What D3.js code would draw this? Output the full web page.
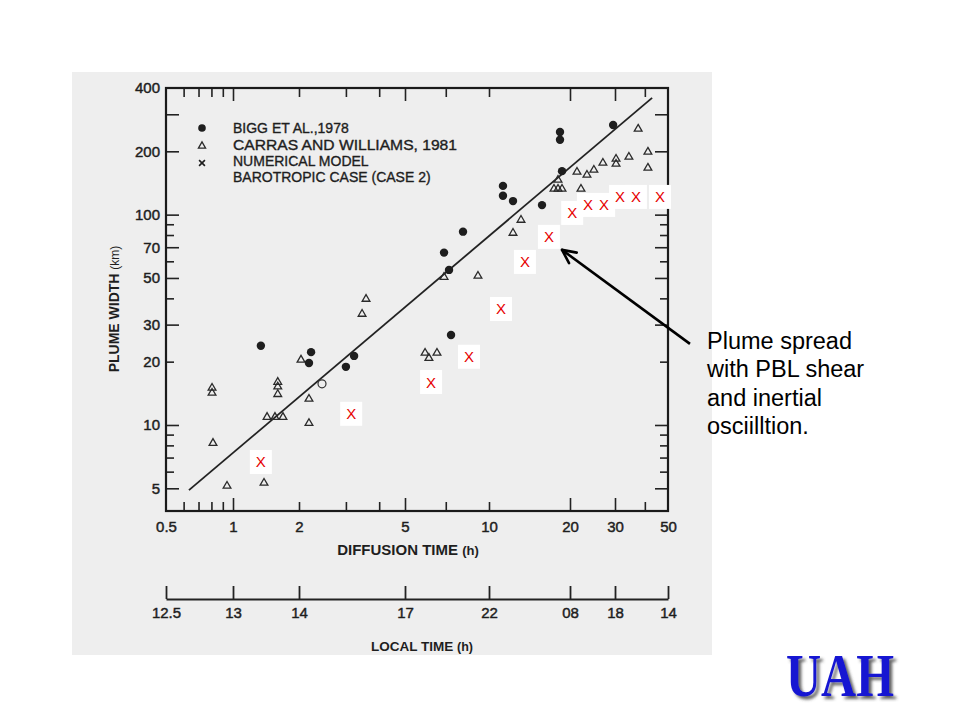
<!DOCTYPE html>
<html><head><meta charset="utf-8">
<script src="https://cdn.jsdelivr.net/npm/d3@7"></script>
<style>body{margin:0;background:#fff}svg{display:block}</style>
</head><body><svg id="c" width="960" height="720"></svg>
<script>
// ---- data ----
const biggTime  = [1.34, 2.22, 2.18, 3.00, 3.22, 7.31, 6.90, 7.19, 8.07, 11.27, 11.27, 12.28, 15.74, 18.36, 18.36, 18.68, 29.5];
const biggWidth = [23.8, 22.2, 19.7, 18.9, 21.3, 26.8, 66, 54.6, 83, 137, 123, 116, 111, 247, 227, 161, 267];
const openTime  = [2.44];
const openWidth = [15.7];
const carrasTime  = [0.805,0.805,0.813,0.94,1.385,1.43,1.554,1.69,1.60,1.60,1.60,2.035,2.18,2.18,3.45,3.57,5.90,6.09,6.51,6.90,9.13,12.28,13.15,17.44,18.05,18.68,18.05,22.08,21.3,23.3,24.8,26.9,30.3,30.3,34.3,37.5,41.2,41.2];
const carrasWidth = [15.0,14.2,8.2,5.13,5.3,10.9,10.9,10.9,16.0,15.2,14.0,20.4,13.3,10.2,33.7,39.7,22.0,20.8,22.0,50.5,51.1,81.8,94.3,132.5,132.5,132.5,146.2,132.5,159.6,154.4,163.1,176.1,184,174.2,188,255.6,198.7,166.8];
const modelTime  = [1.34, 3.14, 6.20, 8.48, 11.08, 13.6, 16.7, 20.4, 23.5, 27.2, 31.5, 36.7, 46.3];
const modelWidth = [6.67, 11.3, 16.0, 21.1, 35.6, 59.6, 78.4, 101.9, 111.2, 111.2, 121.4, 121.4, 121.4];
const fitTime  = [0.634, 42.9];
const fitWidth = [4.9, 359];

const xLabelValues = [0.5, 1, 2, 5, 10, 20, 30, 50];
const xLabels = ["0.5", "1", "2", "5", "10", "20", "30", "50"];
const localLabels = ["12.5", "13", "14", "17", "22", "08", "18", "14"];
const xLongTicks = [1, 5, 20, 30];
const xShortTicks = [0.6, 0.7, 0.8, 0.9, 2, 3, 4, 7, 10, 40];
const yLabelValues = [5, 10, 20, 30, 50, 70, 100, 200, 400];
const yLongTicks = [5, 10, 30, 50, 70, 100, 200, 300];
const yShortTicks = [6, 7, 8, 9, 20, 40, 60, 80, 90];
const legendLabels = ["BIGG ET AL.,1978", "CARRAS AND WILLIAMS, 1981", "NUMERICAL MODEL", "BAROTROPIC CASE (CASE 2)"];
const noteLines = ["Plume spread", "with PBL shear", "and inertial", "osciilltion."];
const arrowTip = [18.68, 68];
const arrowTail = [61.8, 24.3];

// ---- drawing ----
const svg = d3.select("#c");
const FONT = "'Liberation Sans', Arial, Helvetica, sans-serif";
// the scanned diffusion-time axis is log-like but unevenly printed: piecewise log scale through its labelled ticks
const x = d3.scaleLog().domain(xLabelValues).range([166, 233, 299, 405, 489, 570, 615, 668]);
const y = d3.scaleLog().domain([3.9, 400]).range([511, 88]);

// scanned page background
svg.append("rect").attr("x", 72).attr("y", 72).attr("width", 640).attr("height", 583).attr("fill", "#eeeeee");

function styleAxis(g, fs) {
  g.select(".domain").remove();
  g.selectAll("line").attr("stroke", "#222").attr("stroke-width", 1.6);
  g.selectAll("text").attr("font-family", FONT).attr("font-size", fs).attr("fill", "#1e1e1e")
    .attr("stroke", "#1e1e1e").attr("stroke-width", 0.45);
}

// bottom / top ticks
[[d3.axisBottom, 511], [d3.axisTop, 88]].forEach(([ax, ty]) => {
  svg.append("g").attr("transform", `translate(0,${ty})`)
    .call(ax(x).tickValues(xLongTicks).tickSizeInner(-13).tickSizeOuter(0).tickFormat(""))
    .call(g => styleAxis(g, 15));
  svg.append("g").attr("transform", `translate(0,${ty})`)
    .call(ax(x).tickValues(xShortTicks).tickSizeInner(-9).tickSizeOuter(0).tickFormat(""))
    .call(g => styleAxis(g, 15));
});
svg.append("g").attr("transform", "translate(0,511)")
  .call(d3.axisBottom(x).tickValues(xLabelValues).tickSize(0).tickPadding(10).tickFormat((d, i) => xLabels[i]))
  .call(g => styleAxis(g, 15));

// left / right ticks
[[d3.axisLeft, 166], [d3.axisRight, 668]].forEach(([ax, tx]) => {
  svg.append("g").attr("transform", `translate(${tx},0)`)
    .call(ax(y).tickValues(yLongTicks).tickSizeInner(-13).tickSizeOuter(0).tickFormat(""))
    .call(g => styleAxis(g, 15));
  svg.append("g").attr("transform", `translate(${tx},0)`)
    .call(ax(y).tickValues(yShortTicks).tickSizeInner(-8).tickSizeOuter(0).tickFormat(""))
    .call(g => styleAxis(g, 15));
});
svg.append("g").attr("transform", "translate(166,0)")
  .call(d3.axisLeft(y).tickValues(yLabelValues).tickSize(0).tickPadding(6).tickFormat(d3.format("d")))
  .call(g => styleAxis(g, 15));

// frame
svg.append("rect").attr("x", x(0.5)).attr("y", y(400)).attr("width", x(50) - x(0.5)).attr("height", y(3.9) - y(400))
  .attr("fill", "none").attr("stroke", "#1a1a1a").attr("stroke-width", 2.2);

// local time axis
const lt = svg.append("g").attr("transform", "translate(0,599)")
  .call(d3.axisBottom(x).tickValues(xLabelValues).tickSizeInner(-13).tickSizeOuter(0).tickPadding(8)
    .tickFormat((d, i) => localLabels[i]));
lt.select(".domain").attr("stroke", "#222").attr("stroke-width", 2);
lt.selectAll("line").attr("stroke", "#222").attr("stroke-width", 1.8);
lt.selectAll("text").attr("font-family", FONT).attr("font-size", 15).attr("fill", "#1e1e1e")
  .attr("stroke", "#1e1e1e").attr("stroke-width", 0.45);

// axis titles
const xt = svg.append("text").attr("x", 408).attr("y", 555).attr("text-anchor", "middle")
  .attr("font-family", FONT).attr("fill", "#1e1e1e");
xt.append("tspan").attr("font-weight", "bold").attr("font-size", 15).text("DIFFUSION TIME ");
xt.append("tspan").attr("font-size", 13).attr("font-weight", "bold").text("(h)");
const ltt = svg.append("text").attr("x", 422).attr("y", 651).attr("text-anchor", "middle")
  .attr("font-family", FONT).attr("fill", "#1e1e1e");
ltt.append("tspan").attr("font-weight", "bold").attr("font-size", 13.5).text("LOCAL TIME ");
ltt.append("tspan").attr("font-size", 12.5).attr("font-weight", "bold").text("(h)");
const yt = svg.append("text").attr("transform", "translate(119,309) rotate(-90)").attr("text-anchor", "middle")
  .attr("font-family", FONT).attr("fill", "#1e1e1e");
yt.append("tspan").attr("font-weight", "bold").attr("font-size", 14).text("PLUME WIDTH ");
yt.append("tspan").attr("font-size", 12).text("(km)");

// fit line
svg.append("path").datum(d3.zip(fitTime, fitWidth))
  .attr("d", d3.line().x(d => x(d[0])).y(d => y(d[1])))
  .attr("stroke", "#222").attr("stroke-width", 1.8).attr("fill", "none");

// Carras triangles
const tri = d3.symbol().type(d3.symbolTriangle).size(26);
svg.append("g").selectAll("path").data(d3.zip(carrasTime, carrasWidth)).join("path")
  .attr("d", tri).attr("transform", d => `translate(${x(d[0])},${y(d[1])})`)
  .attr("fill", "none").attr("stroke", "#2a2a2a").attr("stroke-width", 1.3);

// Bigg circles
svg.append("g").selectAll("circle").data(d3.zip(biggTime, biggWidth)).join("circle")
  .attr("cx", d => x(d[0])).attr("cy", d => y(d[1])).attr("r", 4.2).attr("fill", "#1e1e1e");
svg.append("g").selectAll("circle").data(d3.zip(openTime, openWidth)).join("circle")
  .attr("cx", d => x(d[0])).attr("cy", d => y(d[1])).attr("r", 4).attr("fill", "none")
  .attr("stroke", "#333").attr("stroke-width", 1.2);

// numerical model red X with white boxes
const model = d3.zip(modelTime, modelWidth);
svg.append("g").selectAll("rect").data(model).join("rect")
  .attr("x", d => x(d[0]) - 11).attr("y", d => y(d[1]) - 12).attr("width", 22).attr("height", 24).attr("fill", "#ffffff");
svg.append("g").selectAll("text").data(model).join("text")
  .attr("x", d => x(d[0])).attr("y", d => y(d[1])).attr("text-anchor", "middle").attr("dominant-baseline", "central")
  .attr("font-family", FONT).attr("font-size", 15).attr("fill", "#e60000").text("X");

// legend
const lg = svg.append("g").attr("font-family", FONT).attr("font-size", 14).attr("fill", "#1e1e1e");
lg.append("circle").attr("cx", 202).attr("cy", 128).attr("r", 3.8).attr("fill", "#1e1e1e");
lg.append("path").attr("d", d3.symbol().type(d3.symbolTriangle).size(22)).attr("transform", "translate(202,146)")
  .attr("fill", "none").attr("stroke", "#2a2a2a").attr("stroke-width", 1.3);
lg.append("path").attr("d", d3.symbol().type(d3.symbolX).size(24)).attr("transform", "translate(202,163)")
  .attr("fill", "none").attr("stroke", "#1e1e1e").attr("stroke-width", 1.6);
[128, 145, 161, 177].forEach((ty, i) => {
  lg.append("text").attr("x", 233).attr("y", ty).attr("dominant-baseline", "central").attr("stroke", "#1e1e1e")
    .attr("stroke-width", 0.35).attr("textLength", i === 1 ? 224 : null).attr("lengthAdjust", "spacingAndGlyphs")
    .text(legendLabels[i]);
});

// annotation arrow
const tip = [x(arrowTip[0]), y(arrowTip[1])], tail = [x(arrowTail[0]), y(arrowTail[1])];
svg.append("line").attr("x1", tail[0]).attr("y1", tail[1]).attr("x2", tip[0] + 2).attr("y2", tip[1] + 1.5)
  .attr("stroke", "#000").attr("stroke-width", 2.6);
const ang = Math.atan2(tail[1] - tip[1], tail[0] - tip[0]);
[-0.45, 0.45].forEach(da => {
  svg.append("line").attr("x1", tip[0]).attr("y1", tip[1])
    .attr("x2", tip[0] + 15 * Math.cos(ang + da)).attr("y2", tip[1] + 15 * Math.sin(ang + da))
    .attr("stroke", "#000").attr("stroke-width", 2.6).attr("stroke-linecap", "round");
});
const note = svg.append("text").attr("font-family", FONT).attr("font-size", 23.5).attr("fill", "#000");
noteLines.forEach((t, i) => note.append("tspan").attr("x", 707).attr("y", 349 + i * 28.3).text(t));

// UAH logo
const defs = svg.append("defs");
defs.append("filter").attr("id", "shadow").attr("x", "-10%").attr("y", "-10%").attr("width", "130%").attr("height", "140%")
  .append("feDropShadow").attr("dx", 3).attr("dy", 3).attr("stdDeviation", 1.5).attr("flood-color", "#444").attr("flood-opacity", 0.85);
svg.append("text").attr("x", 786).attr("y", 696).attr("font-family", "'Liberation Serif', 'Times New Roman', serif")
  .attr("font-weight", "bold").attr("font-size", 62).attr("textLength", 108).attr("lengthAdjust", "spacingAndGlyphs")
  .attr("fill", "#1414d2").attr("filter", "url(#shadow)").text("UAH");
</script></body></html>
